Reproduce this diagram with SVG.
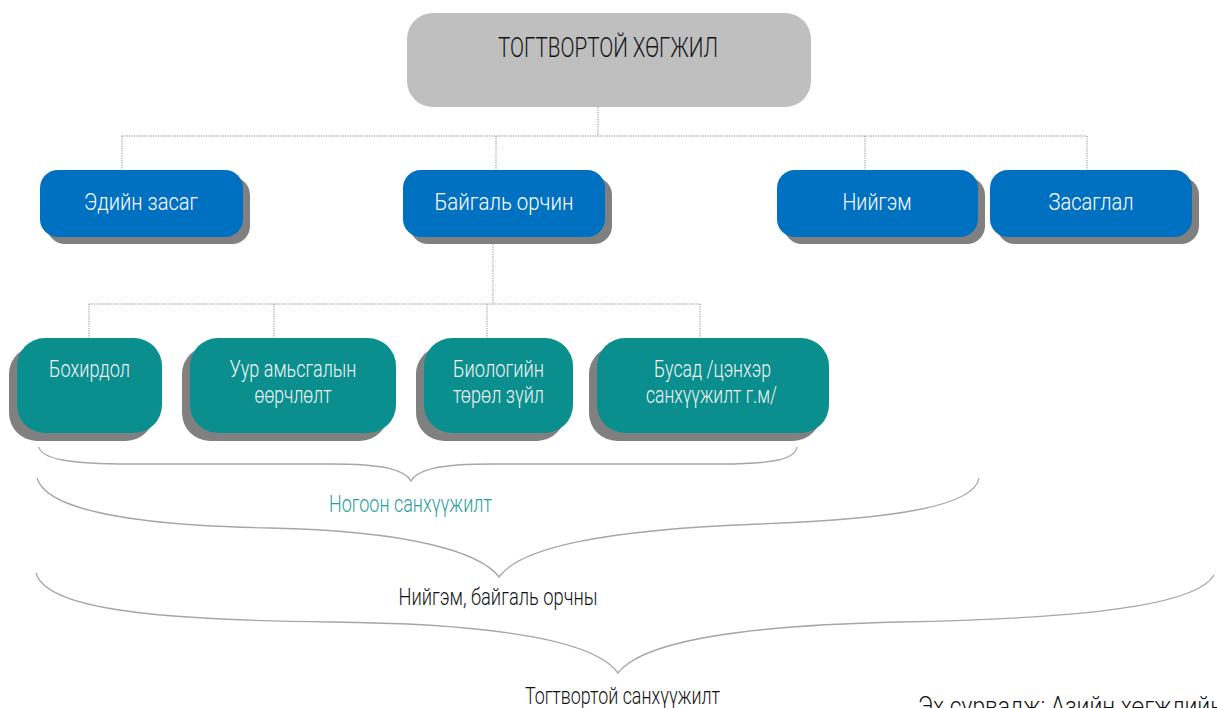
<svg xmlns="http://www.w3.org/2000/svg" width="1217" height="708" viewBox="0 0 1217 708">
<style>
text{font-family:Roboto,"Liberation Sans Narrow","Liberation Sans",Arial,sans-serif;font-weight:300;text-anchor:middle}
.top{fill:#BFBFBF}
.blue{fill:#0070C0}
.teal{fill:#0A8E8E}
.sh{fill:#808080}
.wt{fill:#FFFFFF;font-size:24px}
.tt{fill:#F4F4F4;font-size:24px}
.con{fill:none;stroke:#8C8C8C;stroke-width:1;stroke-dasharray:1.2 1.2}
.br{fill:none;stroke:#A6A6A6;stroke-width:1.3}
.lbl{fill:#111;font-size:24px}
</style>
<g id="connectors">
<path class="con" d="M598,107V136M122,136H1087M122,136V170M496,136V170M865,136V170M1087,136V170"/>
<path class="con" d="M493,237V304M89,304H700M89,304V338M274,304V338M487,304V338M700,304V338"/>
</g>
<g id="n-top">
<rect class="top" x="407" y="13" width="404" height="94" rx="26"/>
<text x="608" y="57" fill="#141414" font-size="28" textLength="220" lengthAdjust="spacingAndGlyphs">ТОГТВОРТОЙ ХӨГЖИЛ</text>
</g>
<g id="n-econ">
<rect class="sh" x="47" y="177" width="203" height="67" rx="18"/>
<rect class="blue" x="40" y="170" width="203" height="67" rx="18"/>
<text class="wt" x="141" y="210" textLength="114" lengthAdjust="spacingAndGlyphs">Эдийн засаг</text>
</g>
<g id="n-env">
<rect class="sh" x="410" y="177" width="202" height="67" rx="18"/>
<rect class="blue" x="403" y="170" width="202" height="67" rx="18"/>
<text class="wt" x="504" y="210" textLength="139" lengthAdjust="spacingAndGlyphs">Байгаль орчин</text>
</g>
<g id="n-soc">
<rect class="sh" x="784" y="177" width="201" height="67" rx="18"/>
<rect class="blue" x="777" y="170" width="201" height="67" rx="18"/>
<text class="wt" x="877" y="210" textLength="69" lengthAdjust="spacingAndGlyphs">Нийгэм</text>
</g>
<g id="n-gov">
<rect class="sh" x="997" y="177" width="202" height="67" rx="18"/>
<rect class="blue" x="990" y="170" width="202" height="67" rx="18"/>
<text class="wt" x="1091" y="210" textLength="85" lengthAdjust="spacingAndGlyphs">Засаглал</text>
</g>
<g id="n-poll">
<rect class="sh" x="9" y="346" width="145" height="95" rx="28"/>
<rect class="teal" x="17" y="338" width="145" height="95" rx="28"/>
<text class="tt" x="89.5" y="377" textLength="81" lengthAdjust="spacingAndGlyphs">Бохирдол</text>
</g>
<g id="n-clim">
<rect class="sh" x="182" y="346" width="206" height="95" rx="28"/>
<rect class="teal" x="190" y="338" width="206" height="95" rx="28"/>
<text class="tt" x="293" y="377" textLength="127" lengthAdjust="spacingAndGlyphs">Уур амьсгалын</text>
<text class="tt" x="293" y="403" textLength="77" lengthAdjust="spacingAndGlyphs">өөрчлөлт</text>
</g>
<g id="n-bio">
<rect class="sh" x="416" y="346" width="149" height="95" rx="28"/>
<rect class="teal" x="424" y="338" width="149" height="95" rx="28"/>
<text class="tt" x="498.5" y="377" textLength="91" lengthAdjust="spacingAndGlyphs">Биологийн</text>
<text class="tt" x="498.5" y="403" textLength="91" lengthAdjust="spacingAndGlyphs">төрөл зүйл</text>
</g>
<g id="n-other">
<rect class="sh" x="589" y="346" width="232" height="95" rx="28"/>
<rect class="teal" x="597" y="338" width="232" height="95" rx="28"/>
<text class="tt" x="712.5" y="377" textLength="117" lengthAdjust="spacingAndGlyphs">Бусад /цэнхэр</text>
<text class="tt" x="711.5" y="403" textLength="131" lengthAdjust="spacingAndGlyphs">санхүүжилт г.м/</text>
</g>
<g id="braces">
<path class="br" d="M39,447 C41,459 70,464 130,464 L330,464 C385,464 405,470 411,481 C417,470 437,464 492,464 L720,464 C775,464 795,459 797,447"/>
<path class="br" d="M37,478 C45,505 110,525 270,528 C410,531 480,552 499,577 C520,548 600,530 760,524 C900,519 975,505 979,478"/>
<path class="br" d="M36,573 C45,605 130,620 330,622 C520,624 598,645 618,673 C640,645 720,626 900,622 C1120,618 1200,600 1214,575"/>
</g>
<g id="labels">
<text x="410.5" y="512" fill="#2A9D9D" font-size="24" textLength="163" lengthAdjust="spacingAndGlyphs">Ногоон санхүүжилт</text>
<text class="lbl" x="498" y="605" textLength="199" lengthAdjust="spacingAndGlyphs">Нийгэм, байгаль орчны</text>
<text class="lbl" x="622.5" y="704" textLength="195" lengthAdjust="spacingAndGlyphs">Тогтвортой санхүүжилт</text>
<text x="918" y="715" fill="#111" font-size="26" style="text-anchor:start" textLength="305" lengthAdjust="spacingAndGlyphs">Эх сурвалж: Азийн хөгжлийн</text>
</g>
</svg>
